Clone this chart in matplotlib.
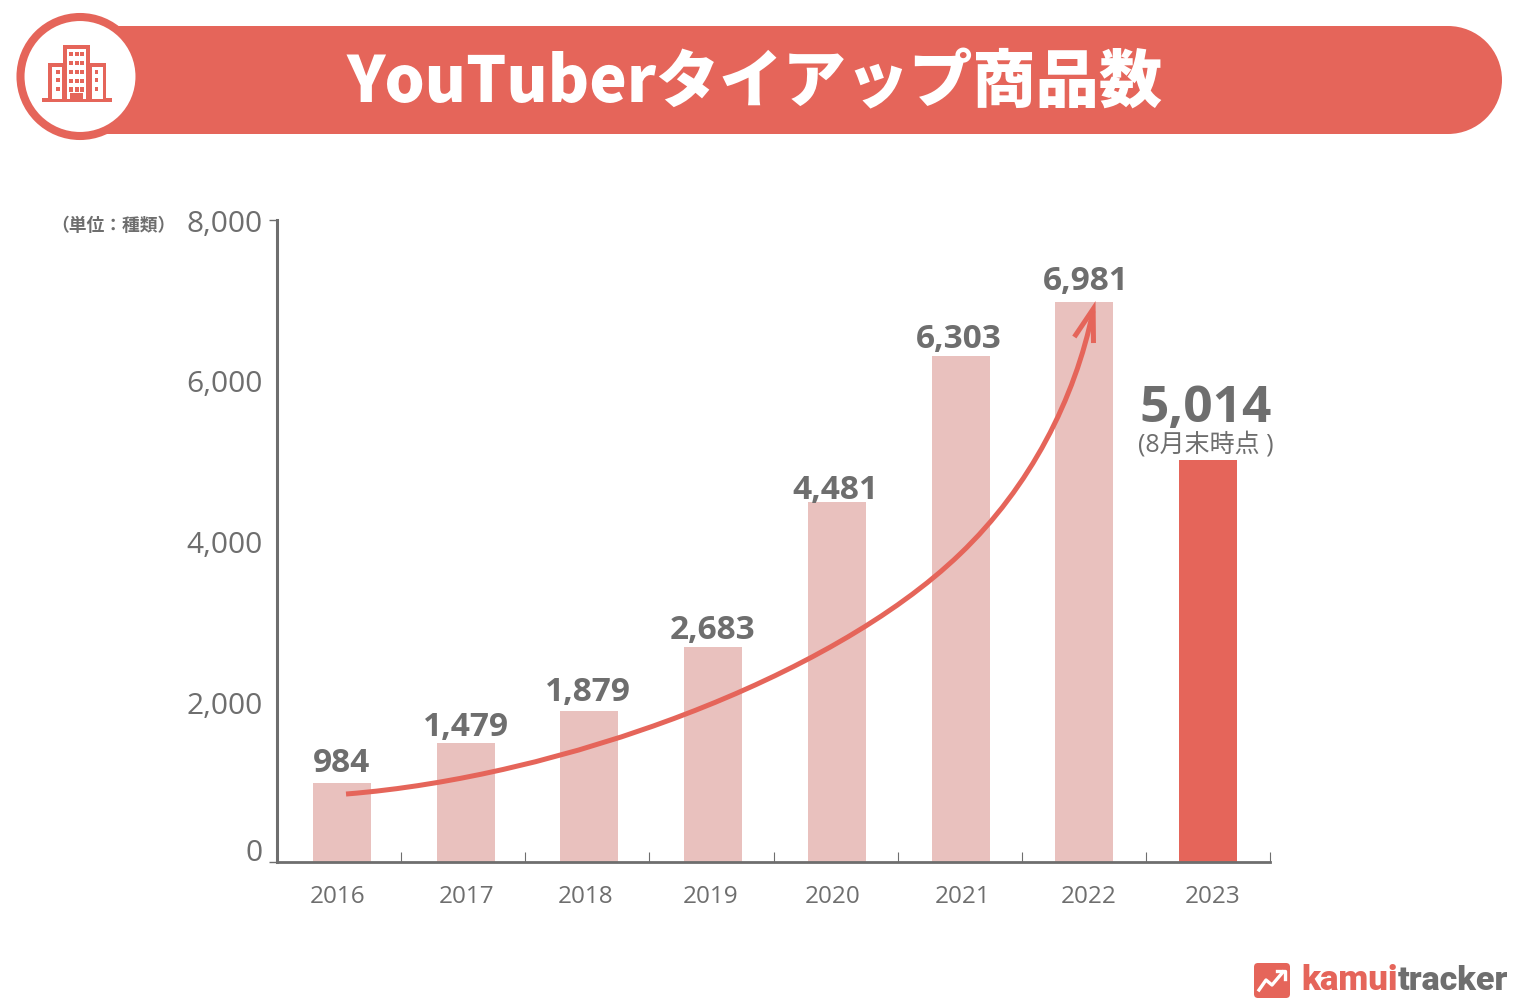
import matplotlib
matplotlib.use("Agg")
import matplotlib.pyplot as plt
import numpy as np
from matplotlib.patches import Circle, FancyBboxPatch, Rectangle
from matplotlib.path import Path
from matplotlib.patches import PathPatch
from matplotlib.transforms import ScaledTranslation

plt.rcParams['font.family'] = ['Open Sans', 'Noto Sans CJK JP', 'DejaVu Sans']

years = ['2016', '2017', '2018', '2019', '2020', '2021', '2022', '2023']
counts = [984, 1479, 1879, 2683, 4481, 6303, 6981, 5014]
count_labels = ['984', '1,479', '1,879', '2,683', '4,481', '6,303', '6,981', '5,014']
y_ticks = [0, 2000, 4000, 6000, 8000]
y_tick_labels = ['0', '2,000', '4,000', '6,000', '8,000']

# trend arrow as two bezier pieces in chart units (bar index, count)
curve_x = [0.032, 1.762, 3.945, 4.996, 5.562, 5.926, 6.071]
curve_y = [847, 1059, 2280, 3838, 4673, 5769, 6866]
head_x = [5.92, 6.072, 6.075]
head_y = [6542, 6890, 6467]

coral = '#e5655a'
pale = '#e9c1be'
grey = '#6e6e6e'

W, H = 1524, 1004
fig = plt.figure(figsize=(W / 100, H / 100), dpi=100)

# pixel overlay for the banner and logo
bg = fig.add_axes([0, 0, 1, 1])
bg.set_xlim(0, W)
bg.set_ylim(H - 1, -1)
bg.axis('off')

bg.add_patch(Rectangle((90, 26), 1358, 108, fc=coral, ec='none'))
bg.add_patch(Circle((1448, 80), 54, fc=coral, ec='none'))
bg.add_patch(Circle((80, 76.5), 59.5, fc='white', ec=coral, lw=5.8))
bg.text(755, 83, 'YouTuberタイアップ商品数', color='white', fontsize=45.5, fontweight=900,
        family=['Noto Sans CJK JP', 'DejaVu Sans'], ha='center', va='center')

# building icon
bg.add_patch(Rectangle((42, 98), 70, 4, fc=coral, ec='none'))
for bx, by, bw, bh in [(63, 44.5, 27, 54), (48, 62.5, 58, 36)]:
    bg.add_patch(Rectangle((bx, by), bw, bh, fc=coral, ec='none'))
bg.add_patch(Rectangle((67, 48.5), 19, 50, fc='white', ec='none'))
bg.add_patch(Rectangle((51.5, 66.5), 10.5, 32, fc='white', ec='none'))
bg.add_patch(Rectangle((92, 66.5), 10.5, 32, fc='white', ec='none'))
for wy in [51.5, 60.5, 69.5, 78.5, 87]:
    for wx in [69, 74.5, 80]:
        bg.add_patch(Rectangle((wx, wy), 4, 4.5, fc=coral, ec='none'))
for wx in [56, 94.5]:
    for wy in [70, 78, 87]:
        bg.add_patch(Rectangle((wx, wy), 3.5, 3.5, fc=coral, ec='none'))
bg.add_patch(Rectangle((70, 93), 13, 6, fc=coral, ec='none'))

# logo
bg.add_patch(FancyBboxPatch((1258, 967), 28, 27, boxstyle='round,pad=4,rounding_size=4', fc=coral, ec='none'))
bg.plot([1259, 1266, 1272, 1283], [990, 980, 985, 972], color='white', lw=2.4)
bg.plot([1277, 1285, 1285], [971, 971, 979], color='white', lw=2.4)
bg.text(1301, 980, 'kamui', color=coral, fontsize=25, fontweight=900, family='Roboto', ha='left', va='center')
bg.text(1398, 980, 'tracker', color=grey, fontsize=24.5, fontweight=900, family='Roboto', ha='left', va='center')

# main chart
ax = fig.add_axes([277 / W, (H - 863) / H, (1270 - 277) / W, 642 / H])
ax.patch.set_alpha(0)
x = np.arange(len(years))
bar_colors = [pale] * 7 + [coral]
ax.bar(x, counts, width=0.469, color=bar_colors)
xlim = (-0.526, 7.502)
ax.set_xlim(xlim)
ax.set_ylim(0, 8000)

for s in ['top', 'right']:
    ax.spines[s].set_visible(False)
ax.spines['left'].set_color(grey)
ax.spines['left'].set_linewidth(2.2)
ax.spines['bottom'].set_color(grey)
ax.spines['bottom'].set_linewidth(2.0)

ax.set_xticks(x)
ax.set_xticklabels(years, fontsize=17.5, color=grey)
ax.tick_params(axis='x', which='major', length=0, pad=15.5)
ax.set_xticks(np.linspace(xlim[0], xlim[1], 9)[1:], minor=True)
ax.tick_params(axis='x', which='minor', direction='in', length=7.5, width=0.8, color=grey)

ax.set_yticks(y_ticks)
ax.set_yticklabels(y_tick_labels, fontsize=21.5, color=grey)
ax.tick_params(axis='y', length=6, width=1, color=grey, pad=4.5)
for i, t in enumerate(ax.yaxis.get_major_ticks()):
    if y_ticks[i] not in (0, 8000):
        t.tick1line.set_visible(False)

# the picture's tick labels sit a little off their ticks
x_nudge = [-4, 1, -4, -3, -4, 2, 4, 5]
for lab, dx in zip(ax.get_xticklabels(), x_nudge):
    lab.set_transform(lab.get_transform() + ScaledTranslation(dx / 100, 0, fig.dpi_scale_trans))
zero = ax.get_yticklabels()[0]
zero.set_transform(zero.get_transform() + ScaledTranslation(0, 13 / 100, fig.dpi_scale_trans))

# value labels
label_dx = [-1, 0, -2, -1, -1, -2, 2, -2]
label_dy = [21, 17, 20, 17, 13, 18, 21, 52]
for i, (v, s) in enumerate(zip(counts, count_labels)):
    last = i == len(counts) - 1
    ax.annotate(s, (i, v), xytext=(label_dx[i], label_dy[i]), textcoords='offset pixels',
                ha='center', va='center', color=grey, fontweight='bold', fontsize=37 if last else 24)
ax.annotate('(8月末時点 )', (7, counts[-1]), xytext=(-2, 16), textcoords='offset pixels',
            ha='center', va='center', color=grey, fontsize=18)
ax.annotate('（単位：種類）', (0, 1), xycoords='axes fraction', xytext=(-164, -5), textcoords='offset pixels',
            ha='center', va='center', color=grey, fontweight='bold', fontsize=12.8,
            family=['Noto Sans CJK JP', 'DejaVu Sans'])

# trend arrow
verts = list(zip(curve_x, curve_y))
codes = [Path.MOVETO] + [Path.CURVE4] * 6
ax.add_patch(PathPatch(Path(verts, codes), fc='none', ec=coral, lw=3.6, capstyle='butt', zorder=4))
ax.plot(head_x, head_y, color=coral, lw=3.6, zorder=4, solid_joinstyle='miter', solid_capstyle='butt', clip_on=False)

fig.savefig('out.png', dpi=100)
